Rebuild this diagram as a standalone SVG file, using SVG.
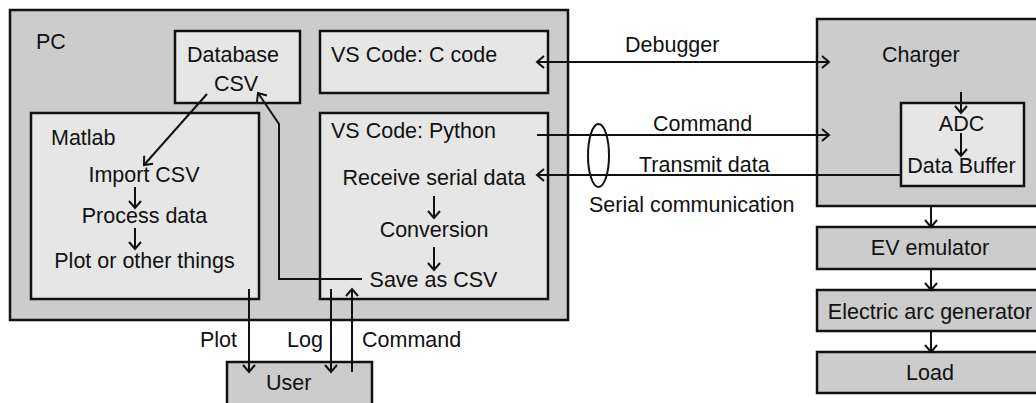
<svg xmlns="http://www.w3.org/2000/svg" width="1036" height="403" viewBox="0 0 1036 403">
<defs>
<style>
text{font-family:"Liberation Sans",Arial,sans-serif;font-size:21.5px;fill:#111}
.outer{fill:#cccccc;stroke:#111;stroke-width:2.5}
.inner{fill:#e6e6e6;stroke:#111;stroke-width:2.5}
.ln{fill:none;stroke:#111;stroke-width:2}
.m{text-anchor:middle}
</style>
<marker id="ah" viewBox="-10 -8 12 16" refX="0" refY="0" markerWidth="12" markerHeight="16" markerUnits="userSpaceOnUse" orient="auto-start-reverse">
<path d="M-7,-6 L0,0 L-7,6" fill="none" stroke="#111" stroke-width="2"/>
</marker>
</defs>

<g id="pc">
<rect class="outer" x="10" y="10" width="558" height="310"/>
<text x="36" y="49">PC</text>
</g>
<g id="database">
<rect class="inner" x="175" y="31" width="125" height="72"/>
<text x="233" y="62" class="m">Database</text>
<text x="236" y="91" class="m">CSV</text>
</g>
<g id="matlab">
<rect class="inner" x="31" y="113" width="228" height="186"/>
<text x="51" y="145">Matlab</text>
<text x="144" y="182" class="m">Import CSV</text>
<text x="144.5" y="223" class="m">Process data</text>
<text x="144.5" y="268" class="m">Plot or other things</text>
</g>
<g id="vscode-c">
<rect class="inner" x="320" y="31" width="228" height="62"/>
<text x="331" y="62">VS Code: C code</text>
</g>
<g id="vscode-python">
<rect class="inner" x="320" y="113" width="228" height="186"/>
<text x="331" y="138">VS Code: Python</text>
<text x="434" y="185" class="m">Receive serial data</text>
<text x="434" y="237" class="m">Conversion</text>
<text x="433.5" y="287" class="m">Save as CSV</text>
</g>
<g id="charger">
<rect class="outer" x="817" y="19" width="228" height="187"/>
<text x="882" y="62">Charger</text>
</g>
<g id="adc">
<rect class="inner" x="901" y="103" width="123" height="83"/>
<text x="961.5" y="131" class="m">ADC</text>
<text x="961.5" y="173" class="m">Data Buffer</text>
</g>
<g id="ev-emulator">
<rect class="outer" x="817" y="227" width="228" height="42"/>
<text x="930" y="255" class="m">EV emulator</text>
</g>
<g id="arc-generator">
<rect class="outer" x="817" y="290" width="228" height="41"/>
<text x="930" y="319" class="m">Electric arc generator</text>
</g>
<g id="load">
<rect class="outer" x="817" y="352" width="228" height="41"/>
<text x="930" y="380" class="m">Load</text>
</g>
<g id="user">
<rect class="outer" x="227" y="362" width="145" height="45"/>
<text x="266" y="390">User</text>
</g>

<g id="connectors">
<line class="ln" x1="135" y1="187" x2="135" y2="208" marker-end="url(#ah)"/>
<line class="ln" x1="135" y1="228" x2="135" y2="249" marker-end="url(#ah)"/>
<line class="ln" x1="434" y1="196" x2="434" y2="218" marker-end="url(#ah)"/>
<line class="ln" x1="434" y1="247" x2="434" y2="270" marker-end="url(#ah)"/>
<line class="ln" x1="207" y1="94" x2="144" y2="165" marker-end="url(#ah)"/>
<path class="ln" d="M362,279 L279,279 L279,124 L258,93" marker-end="url(#ah)"/>
<line class="ln" x1="537" y1="62" x2="829" y2="62" marker-start="url(#ah)" marker-end="url(#ah)"/>
<text x="625" y="52">Debugger</text>
<line class="ln" x1="537" y1="135" x2="829" y2="135" marker-end="url(#ah)"/>
<text x="653" y="131">Command</text>
<line class="ln" x1="901" y1="175" x2="537" y2="175" marker-end="url(#ah)"/>
<text x="639" y="172">Transmit data</text>
<ellipse cx="598.5" cy="155.5" rx="10.5" ry="31.5" fill="none" stroke="#111" stroke-width="2"/>
<text x="589" y="212">Serial communication</text>
<line class="ln" x1="961" y1="92" x2="961" y2="113" marker-end="url(#ah)"/>
<line class="ln" x1="961" y1="133" x2="961" y2="156" marker-end="url(#ah)"/>
<line class="ln" x1="931" y1="206" x2="931" y2="227" marker-end="url(#ah)"/>
<line class="ln" x1="931" y1="269" x2="931" y2="290" marker-end="url(#ah)"/>
<line class="ln" x1="931" y1="331" x2="931" y2="352" marker-end="url(#ah)"/>
<line class="ln" x1="249" y1="289" x2="249" y2="372" marker-end="url(#ah)"/>
<text x="200" y="347">Plot</text>
<line class="ln" x1="331" y1="289" x2="331" y2="372" marker-end="url(#ah)"/>
<text x="287" y="347">Log</text>
<line class="ln" x1="352" y1="372" x2="352" y2="289" marker-end="url(#ah)"/>
<text x="362" y="347">Command</text>
</g>
</svg>
